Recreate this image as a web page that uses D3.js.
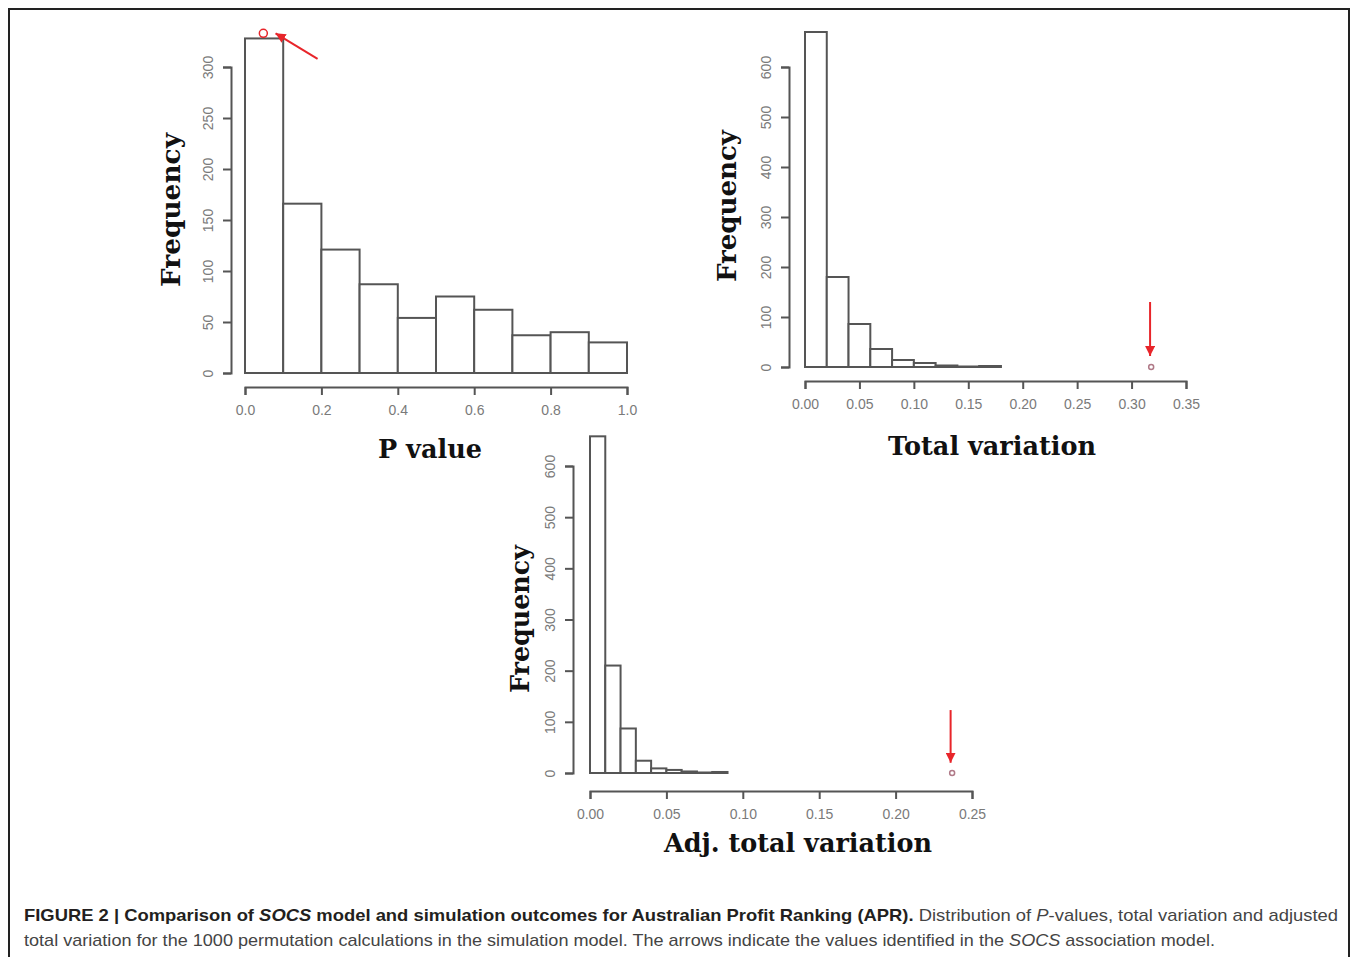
<!DOCTYPE html>
<html>
<head>
<meta charset="utf-8">
<script src="https://cdn.jsdelivr.net/npm/d3@7"></script>
<style>
  html, body { margin: 0; padding: 0; background: #fff; }
  svg { display: block; }
</style>
</head>
<body>
<svg id="fig" width="1358" height="957"></svg>
<script>
// ---------- DATA ----------
// Panel A: P values (bin width 0.1)
const pBinWidth = 0.1;
const pCounts = [328, 166, 121, 87, 54, 75, 62, 37, 40, 30];
const pXTicks = [0, 0.2, 0.4, 0.6, 0.8, 1.0];
const pYTicks = [0, 50, 100, 150, 200, 250, 300];
const pObserved = [0.048, 333];
const pArrow = [[0.19, 308], [0.08, 333]];

// Panel B: Total variation (bin width 0.02)
const tvBinWidth = 0.02;
const tvCounts = [670, 180, 86, 36, 14, 8, 3, 1, 2];
const tvXTicks = [0, 0.05, 0.10, 0.15, 0.20, 0.25, 0.30, 0.35];
const tvYTicks = [0, 100, 200, 300, 400, 500, 600];
const tvObserved = [0.318, 0];
const tvArrow = [[0.317, 130], [0.317, 22]];

// Panel C: Adjusted total variation (bin width 0.01)
const adjBinWidth = 0.01;
const adjCounts = [658, 210, 87, 24, 9, 6, 3, 1, 2];
const adjXTicks = [0, 0.05, 0.10, 0.15, 0.20, 0.25];
const adjYTicks = [0, 100, 200, 300, 400, 500, 600];
const adjObserved = [0.237, 0];
const adjArrow = [[0.236, 123], [0.236, 20]];

// ---------- DRAW ----------
const svg = d3.select("#fig");
const ink = "#555";
const tickInk = "#7a7a7a";
const red = "#e8252a";

svg.append("defs").append("marker")
  .attr("id", "ah").attr("viewBox", "0 0 10 10")
  .attr("refX", 10).attr("refY", 5)
  .attr("markerWidth", 5).attr("markerHeight", 5)
  .attr("markerUnits", "strokeWidth")
  .attr("orient", "auto")
  .append("path").attr("d", "M0,0 L10,5 L0,10 Z").attr("fill", red);

// outer frame
svg.append("path")
  .attr("d", "M9,960 L9,9 L1349,9 L1349,960")
  .attr("fill", "none").attr("stroke", "#222").attr("stroke-width", 2);

function panel(cfg) {
  const g = svg.append("g");
  const x = d3.scaleLinear().domain(cfg.xDomain).range(cfg.xRange);
  const y = d3.scaleLinear().domain(cfg.yDomain).range(cfg.yRange);

  // bars
  g.selectAll("rect.bar").data(cfg.counts).join("rect")
    .attr("class", "bar")
    .attr("x", (d, i) => x(i * cfg.binWidth))
    .attr("width", (d, i) => x((i + 1) * cfg.binWidth) - x(i * cfg.binWidth))
    .attr("y", d => y(d))
    .attr("height", d => y(0) - y(d))
    .attr("fill", "#fff").attr("stroke", ink).attr("stroke-width", 2);

  // x axis
  const xa = g.append("g").attr("transform", `translate(0,${cfg.xAxisY})`)
    .call(d3.axisBottom(x).tickValues(cfg.xTicks).tickSize(8).tickSizeOuter(8)
      .tickFormat(cfg.xFmt).tickPadding(10));
  xa.select(".domain").attr("stroke", ink).attr("stroke-width", 2);
  xa.selectAll(".tick line").attr("stroke", ink).attr("stroke-width", 2);
  xa.selectAll(".tick text").attr("fill", tickInk)
    .style("font-family", "'Liberation Sans', Arial, sans-serif").style("font-size", "14px");

  // y axis
  const ya = g.append("g").attr("transform", `translate(${cfg.yAxisX},0)`)
    .call(d3.axisLeft(y).tickValues(cfg.yTicks).tickSize(8).tickSizeOuter(8).tickFormat(d3.format("d")));
  ya.select(".domain").attr("stroke", ink).attr("stroke-width", 2);
  ya.selectAll(".tick line").attr("stroke", ink).attr("stroke-width", 2);
  ya.selectAll(".tick text").attr("fill", tickInk)
    .attr("x", null).attr("dy", null)
    .attr("text-anchor", "middle")
    .attr("transform", "translate(-18,0) rotate(-90)")
    .style("font-family", "'Liberation Sans', Arial, sans-serif").style("font-size", "14px");

  // titles
  g.append("text").text(cfg.xTitle)
    .attr("x", cfg.xTitlePos[0]).attr("y", cfg.xTitlePos[1])
    .attr("text-anchor", "middle")
    .attr("textLength", cfg.xTitleLen).attr("lengthAdjust", "spacingAndGlyphs")
    .style("font-family", "'DejaVu Serif', serif").style("font-weight", "bold")
    .style("font-size", "26px").attr("fill", "#111");
  g.append("text").text("Frequency")
    .attr("transform", `translate(${cfg.yTitlePos[0]},${cfg.yTitlePos[1]}) rotate(-90)`)
    .attr("text-anchor", "middle")
    .attr("textLength", cfg.yTitleLen).attr("lengthAdjust", "spacingAndGlyphs")
    .style("font-family", "'DejaVu Serif', serif").style("font-weight", "bold")
    .style("font-size", "26px").attr("fill", "#111");

  // observed marker
  g.append("circle")
    .attr("cx", x(cfg.observed[0])).attr("cy", y(cfg.observed[1]))
    .attr("r", cfg.obsR).attr("fill", "none")
    .attr("stroke", cfg.obsColor).attr("stroke-width", cfg.obsR > 3 ? 1.5 : 1.5);

  // arrow
  g.append("line")
    .attr("x1", x(cfg.arrow[0][0])).attr("y1", y(cfg.arrow[0][1]))
    .attr("x2", x(cfg.arrow[1][0])).attr("y2", y(cfg.arrow[1][1]))
    .attr("stroke", red).attr("stroke-width", 2)
    .attr("marker-end", "url(#ah)");
}

panel({
  counts: pCounts, binWidth: pBinWidth,
  xDomain: [0, 1], xRange: [245, 627],
  yDomain: [0, 300], yRange: [373, 67],
  xAxisY: 387, yAxisX: 231,
  xTicks: pXTicks, yTicks: pYTicks, xFmt: d3.format(".1f"),
  xTitle: "P value", xTitlePos: [430, 458], xTitleLen: 104,
  yTitlePos: [180, 210], yTitleLen: 154,
  observed: pObserved, obsR: 4, obsColor: red,
  arrow: pArrow
});

panel({
  counts: tvCounts, binWidth: tvBinWidth,
  xDomain: [0, 0.35], xRange: [805, 1186],
  yDomain: [0, 600], yRange: [367, 67],
  xAxisY: 381, yAxisX: 789,
  xTicks: tvXTicks, yTicks: tvYTicks, xFmt: d3.format(".2f"),
  xTitle: "Total variation", xTitlePos: [992, 455], xTitleLen: 208,
  yTitlePos: [736, 206], yTitleLen: 152,
  observed: tvObserved, obsR: 2.5, obsColor: "#b07a88",
  arrow: tvArrow
});

panel({
  counts: adjCounts, binWidth: adjBinWidth,
  xDomain: [0, 0.25], xRange: [590, 972],
  yDomain: [0, 600], yRange: [773, 466],
  xAxisY: 791, yAxisX: 573,
  xTicks: adjXTicks, yTicks: adjYTicks, xFmt: d3.format(".2f"),
  xTitle: "Adj. total variation", xTitlePos: [798, 852], xTitleLen: 268,
  yTitlePos: [529, 619], yTitleLen: 148,
  observed: adjObserved, obsR: 2.5, obsColor: "#b07a88",
  arrow: adjArrow
});

// caption
const cap = svg.append("g")
  .style("font-family", "'Liberation Sans', Arial, sans-serif")
  .style("font-size", "17px");
const l1 = cap.append("text").attr("x", 24).attr("y", 921)
  .attr("textLength", 1314).attr("lengthAdjust", "spacingAndGlyphs");
l1.append("tspan").attr("font-weight", "bold").attr("fill", "#231f20").text("FIGURE 2 | Comparison of ");
l1.append("tspan").attr("font-weight", "bold").attr("font-style", "italic").attr("fill", "#231f20").text("SOCS");
l1.append("tspan").attr("font-weight", "bold").attr("fill", "#231f20").text(" model and simulation outcomes for Australian Profit Ranking (APR).");
l1.append("tspan").attr("fill", "#444").text(" Distribution of ");
l1.append("tspan").attr("fill", "#444").attr("font-style", "italic").text("P");
l1.append("tspan").attr("fill", "#444").text("-values, total variation and adjusted");
const l2 = cap.append("text").attr("x", 24).attr("y", 946).attr("fill", "#444")
  .attr("textLength", 1191).attr("lengthAdjust", "spacingAndGlyphs");
l2.append("tspan").text("total variation for the 1000 permutation calculations in the simulation model. The arrows indicate the values identified in the ");
l2.append("tspan").attr("font-style", "italic").text("SOCS");
l2.append("tspan").text(" association model.");
</script>
</body>
</html>
